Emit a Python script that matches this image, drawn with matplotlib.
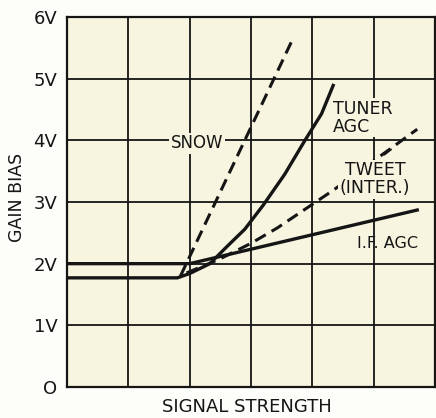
import matplotlib
matplotlib.use('Agg')
import matplotlib.pyplot as plt

# curves on a 0..6 signal-strength grid, volts on y
if_agc_x = [0, 2.0, 5.71]
if_agc_y = [2.0, 2.0, 2.87]

tuner_x = [0, 1.8, 2.0, 2.33, 2.6, 2.9, 3.2, 3.55, 3.88, 4.15, 4.34]
tuner_y = [1.77, 1.77, 1.84, 2.0, 2.27, 2.56, 2.95, 3.45, 4.0, 4.43, 4.89]

snow_x = [1.85, 3.67]
snow_y = [1.8, 5.62]

tweet_x = [1.95, 2.5, 3.0, 3.43, 4.34, 5.71]
tweet_y = [1.85, 2.08, 2.33, 2.58, 3.19, 4.18]

volt_ticks = [0, 1, 2, 3, 4, 5, 6]
volt_labels = ['O', '1V', '2V', '3V', '4V', '5V', '6V']

paper = '#f7f5e0'
ink = '#151515'

plt.rcParams['font.family'] = ['DejaVu Sans']

fig = plt.figure(figsize=(4.36, 4.18), dpi=100)
fig.patch.set_facecolor('#fdfdf9')
ax = fig.add_axes([67 / 436, 31 / 418, 368 / 436, 370 / 418])
ax.set_facecolor(paper)

ax.set_xlim(0, 6)
ax.set_ylim(0, 6)
ax.set_xticks(range(7))
ax.set_xticklabels([])
ax.set_yticks(volt_ticks)
ax.set_yticklabels(volt_labels, fontsize=13)
ax.tick_params(length=0, pad=7, colors=ink)
ax.grid(True, color=ink, linewidth=1.3, zorder=1)
ax.set_axisbelow(True)
for s in ax.spines.values():
    s.set_color(ink)
    s.set_linewidth(1.6)

ax.plot(if_agc_x, if_agc_y, color=ink, lw=2.4, zorder=3)
ax.plot(tuner_x, tuner_y, color=ink, lw=2.4, zorder=3)
ax.plot(snow_x, snow_y, color=ink, lw=2.2, ls=(0, (4, 2.2)), zorder=3)
ax.plot(tweet_x, tweet_y, color=ink, lw=2.2, ls=(0, (4, 2.2)), zorder=3)

box = dict(facecolor=paper, edgecolor='none', pad=1.0)
ax.text(2.12, 3.95, 'SNOW', fontsize=12, ha='center', va='center',
        color=ink, bbox=box, zorder=4)
ax.text(4.33, 4.37, 'TUNER\nAGC', fontsize=12.5, ha='left', va='center',
        linespacing=1.0, color=ink, bbox=box, zorder=4)
ax.text(5.02, 3.37, 'TWEET\n(INTER.)', fontsize=12.5, ha='center', va='center',
        linespacing=1.0, color=ink, bbox=box, zorder=4)
ax.text(5.22, 2.33, 'I.F. AGC', fontsize=11.5, ha='center', va='center',
        color=ink, zorder=4)
ax.annotate('', xy=(5.32, 3.88), xytext=(5.14, 3.74),
            arrowprops=dict(arrowstyle='-', color=ink, lw=1.3), zorder=4)

fig.text(247 / 436, 1 - 407 / 418, 'SIGNAL STRENGTH', fontsize=13,
         ha='center', va='center', color=ink)
fig.text(17 / 436, 1 - 197 / 418, 'GAIN BIAS', rotation=90, fontsize=12.5,
         ha='center', va='center', color=ink)

fig.savefig('out.png', dpi=100, facecolor=fig.get_facecolor())
